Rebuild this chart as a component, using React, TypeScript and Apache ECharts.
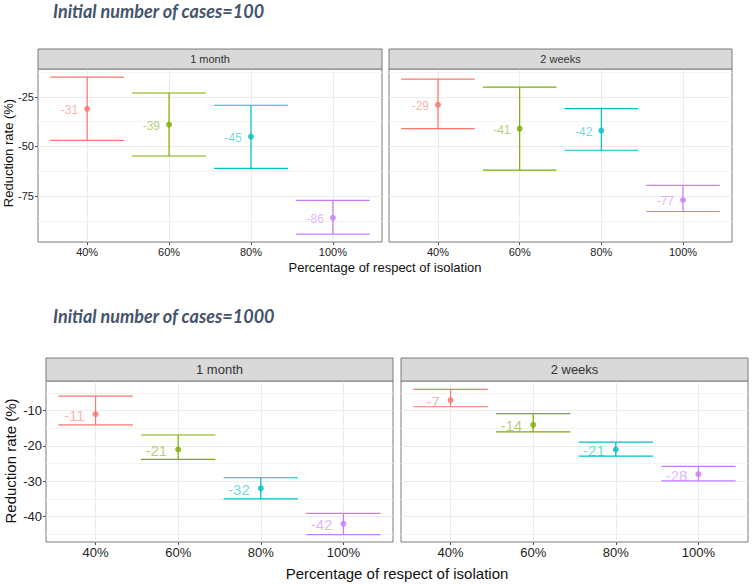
import React, { useEffect, useRef } from 'react';
import * as echarts from 'echarts';

// ---------- data ----------
const categories = ['40%', '60%', '80%', '100%'];
const categoryPositions = [1, 2, 3, 4];
const groupColors = ['#F8766D', '#7CAE00', '#00BFC4', '#C77CFF'];
const labelColors = ['rgba(248,118,109,0.72)', 'rgba(124,174,0,0.72)', 'rgba(0,191,196,0.72)', 'rgba(199,124,255,0.72)'];

const facetNames = ['1 month', '2 weeks'];
const titleCases100 = 'Initial number of cases=100';
const titleCases1000 = 'Initial number of cases=1000';
const yTitle = 'Reduction rate (%)';
const xTitle = 'Percentage of respect of isolation';

// cases = 100
const c100MonthMean = [-31, -39, -45, -86];
const c100MonthLower = [-46.9, -54.8, -61, -94.2];
const c100MonthUpper = [-15, -23, -29.2, -77.2];
const c100WeeksMean = [-29, -41, -42, -77];
const c100WeeksLower = [-41, -61.9, -51.9, -82.8];
const c100WeeksUpper = [-16, -20, -30.9, -69.6];
const c100MajorTicks = [-25, -50, -75];
const c100MinorTicks = [-12.5, -37.5, -62.5, -87.5];

// cases = 1000
const c1000MonthMean = [-11, -21, -32, -42];
const c1000MonthLower = [-14.05, -23.8, -35, -45.1];
const c1000MonthUpper = [-5.9, -16.9, -29, -39.1];
const c1000WeeksMean = [-7, -14, -21, -28];
const c1000WeeksLower = [-8.9, -16, -22.9, -29.9];
const c1000WeeksUpper = [-4, -10.85, -18.9, -25.8];
const c1000MajorTicks = [-10, -20, -30, -40];
const c1000MinorTicks = [-5, -15, -25, -35, -45];

const FONT = '"Liberation Sans", Arial, sans-serif';

type Panel = {
  rect: { left: number; top: number; width: number; height: number };
  stripH: number;
  facet: string;
  mean: number[];
  lower: number[];
  upper: number[];
  yMin: number;
  yMax: number;
  major: number[];
  minor: number[];
  showY: boolean;
  tickFont: number;
  stripFont: number;
  labelFont: number;
  labelDist: number;
};

const panels: Panel[] = [
  { rect: { left: 38, top: 69, width: 344, height: 173 }, stripH: 20, facet: facetNames[0], mean: c100MonthMean, lower: c100MonthLower, upper: c100MonthUpper, yMin: -98.2, yMax: -10.9, major: c100MajorTicks, minor: c100MinorTicks, showY: true, tickFont: 11, stripFont: 11, labelFont: 12, labelDist: 6 },
  { rect: { left: 389, top: 69, width: 343, height: 173 }, stripH: 20, facet: facetNames[1], mean: c100WeeksMean, lower: c100WeeksLower, upper: c100WeeksUpper, yMin: -98.2, yMax: -10.9, major: c100MajorTicks, minor: c100MinorTicks, showY: false, tickFont: 11, stripFont: 11, labelFont: 12, labelDist: 6 },
  { rect: { left: 46, top: 381, width: 347, height: 161 }, stripH: 23, facet: facetNames[0], mean: c1000MonthMean, lower: c1000MonthLower, upper: c1000MonthUpper, yMin: -47.2, yMax: -1.6, major: c1000MajorTicks, minor: c1000MinorTicks, showY: true, tickFont: 13, stripFont: 13, labelFont: 15, labelDist: 8 },
  { rect: { left: 401, top: 381, width: 347, height: 161 }, stripH: 23, facet: facetNames[1], mean: c1000WeeksMean, lower: c1000WeeksLower, upper: c1000WeeksUpper, yMin: -47.2, yMax: -1.6, major: c1000MajorTicks, minor: c1000MinorTicks, showY: false, tickFont: 13, stripFont: 13, labelFont: 15, labelDist: 8 },
];

function buildOption() {
  const grid: any[] = [];
  const xAxis: any[] = [];
  const yAxis: any[] = [];
  const series: any[] = [];
  const graphic: any[] = [];

  panels.forEach((p, i) => {
    grid.push({ ...p.rect, show: true, borderColor: '#7a7a7a', borderWidth: 1, backgroundColor: '#fff', containLabel: false });
    xAxis.push({
      type: 'value', gridIndex: i, min: 0.4, max: 4.6,
      axisLine: { show: false },
      splitLine: { show: false },
      axisTick: { show: true, customValues: categoryPositions, length: 3, lineStyle: { color: '#555' } },
      axisLabel: { customValues: categoryPositions, formatter: (v: number) => categories[Math.round(v) - 1], fontSize: p.tickFont, color: '#222', margin: 4, fontFamily: FONT },
    });
    yAxis.push({
      type: 'value', gridIndex: i, min: p.yMin, max: p.yMax,
      axisLine: { show: false },
      splitLine: { show: false },
      axisTick: { show: p.showY, customValues: p.major, length: 3, lineStyle: { color: '#555' } },
      axisLabel: { show: p.showY, customValues: p.major, fontSize: p.tickFont, color: '#222', margin: 4, fontFamily: FONT },
    });
    // gridlines
    series.push({
      type: 'line', xAxisIndex: i, yAxisIndex: i, data: [], silent: true, z: 1,
      markLine: {
        silent: true, symbol: 'none', z: 1, animation: false,
        label: { show: false },
        data: [
          ...p.minor.map((v) => ({ yAxis: v, lineStyle: { color: '#F3F3F3', width: 1, type: 'solid' } })),
          ...p.major.map((v) => ({ yAxis: v, lineStyle: { color: '#EBEBEB', width: 1, type: 'solid' } })),
          ...categoryPositions.map((v) => ({ xAxis: v, lineStyle: { color: '#EBEBEB', width: 1, type: 'solid' } })),
        ],
      },
    });
    // error bars
    series.push({
      type: 'custom', xAxisIndex: i, yAxisIndex: i, z: 3, silent: true,
      data: categoryPositions.map((x, k) => [x, p.lower[k], p.upper[k]]),
      renderItem: (params: any, api: any) => {
        const x = api.value(0);
        const lo = api.coord([x, api.value(1)]);
        const hi = api.coord([x, api.value(2)]);
        const half = api.size([0.9, 0])[0] / 2;
        const style = { stroke: groupColors[params.dataIndex], lineWidth: 1.2 };
        return {
          type: 'group',
          children: [
            { type: 'line', shape: { x1: hi[0] - half, y1: hi[1], x2: hi[0] + half, y2: hi[1] }, style },
            { type: 'line', shape: { x1: lo[0] - half, y1: lo[1], x2: lo[0] + half, y2: lo[1] }, style },
            { type: 'line', shape: { x1: hi[0], y1: hi[1], x2: lo[0], y2: lo[1] }, style },
          ],
        };
      },
    });
    // points + labels
    series.push({
      type: 'scatter', xAxisIndex: i, yAxisIndex: i, z: 4, symbolSize: 6,
      data: categoryPositions.map((x, k) => ({
        value: [x, p.mean[k]],
        itemStyle: { color: groupColors[k] },
        label: { color: labelColors[k] },
      })),
      label: {
        show: true, position: 'left', distance: p.labelDist, offset: [0, 1],
        fontSize: p.labelFont, fontFamily: FONT,
        formatter: (params: any) => String(params.value[1]),
      },
    });
    // strip
    graphic.push({
      type: 'rect', shape: { x: p.rect.left, y: p.rect.top - p.stripH, width: p.rect.width, height: p.stripH },
      style: { fill: '#D9D9D9', stroke: '#7a7a7a', lineWidth: 1 }, z: 10,
    });
    graphic.push({
      type: 'text', x: p.rect.left + p.rect.width / 2, y: p.rect.top - p.stripH / 2, z: 11,
      style: { text: p.facet, fill: '#333', font: `${p.stripFont}px ${FONT}`, textAlign: 'center', textVerticalAlign: 'middle' },
    });
  });

  // titles
  graphic.push({ type: 'text', x: 53, y: 11, style: { text: titleCases100, fill: '#44546A', font: `italic bold 18px Lato, sans-serif`, textAlign: 'left', textVerticalAlign: 'middle' } });
  graphic.push({ type: 'text', x: 53, y: 316, style: { text: titleCases1000, fill: '#44546A', font: `italic bold 18px Lato, sans-serif`, textAlign: 'left', textVerticalAlign: 'middle' } });
  // axis titles
  graphic.push({ type: 'text', x: 385, y: 267, style: { text: xTitle, fill: '#111', font: `13px ${FONT}`, textAlign: 'center', textVerticalAlign: 'middle' } });
  graphic.push({ type: 'text', x: 397, y: 573, style: { text: xTitle, fill: '#111', font: `15px ${FONT}`, textAlign: 'center', textVerticalAlign: 'middle' } });
  graphic.push({ type: 'text', x: 8, y: 153, rotation: Math.PI / 2, style: { text: yTitle, fill: '#111', font: `13px ${FONT}`, textAlign: 'center', textVerticalAlign: 'middle' } });
  graphic.push({ type: 'text', x: 10, y: 461, rotation: Math.PI / 2, style: { text: yTitle, fill: '#111', font: `15px ${FONT}`, textAlign: 'center', textVerticalAlign: 'middle' } });

  return { animation: false, backgroundColor: '#fff', grid, xAxis, yAxis, series, graphic };
}

export default function App() {
  const ref = useRef<HTMLDivElement>(null);
  useEffect(() => {
    if (!ref.current) return;
    const chart = echarts.init(ref.current, undefined, { renderer: 'svg' });
    chart.setOption(buildOption() as any);
    return () => chart.dispose();
  }, []);
  return <div ref={ref} style={{ position: 'fixed', left: 0, top: 0, width: 752, height: 584 }} />;
}
